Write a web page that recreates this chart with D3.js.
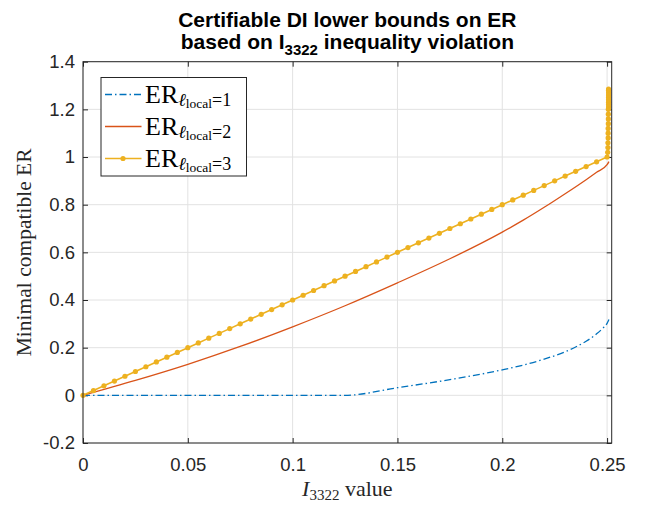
<!DOCTYPE html>
<html><head><meta charset="utf-8">
<script src="https://cdn.jsdelivr.net/npm/d3@7"></script>
<style>body{margin:0;background:#fff}</style>
</head><body>
<svg id="c" width="655" height="506"></svg>
<script>
// Data
const xTicks = [0, 0.05, 0.1, 0.15, 0.2, 0.25];
const xTickLabels = ["0", "0.05", "0.1", "0.15", "0.2", "0.25"];
const yTicks = [-0.2, 0, 0.2, 0.4, 0.6, 0.8, 1.0, 1.2, 1.4];
const yTickLabels = ["-0.2", "0", "0.2", "0.4", "0.6", "0.8", "1", "1.2", "1.4"];

const l1X = [0, 0.025, 0.05, 0.075, 0.1, 0.125, 0.15, 0.175, 0.2, 0.21, 0.22, 0.23, 0.235, 0.24, 0.245, 0.248, 0.25, 0.2509];
const l1Y = [0, 0, 0, 0, 0, 0, 0.032, 0.066, 0.107, 0.127, 0.152, 0.183, 0.203, 0.227, 0.258, 0.282, 0.302, 0.318];

const l2X = [0, 0.025, 0.05, 0.075, 0.1, 0.125, 0.15, 0.175, 0.2, 0.21, 0.22, 0.23, 0.24, 0.245, 0.25, 0.2509];
const l2Y = [0, 0.0625, 0.13, 0.205, 0.2875, 0.376, 0.472, 0.573, 0.685, 0.735, 0.789, 0.846, 0.905, 0.936, 0.968, 0.981];

const l3X = [0, 0.005, 0.01, 0.015, 0.02, 0.025, 0.03, 0.035, 0.04, 0.045, 0.05, 0.055, 0.06, 0.065, 0.07, 0.075, 0.08, 0.085, 0.09, 0.095,
  0.1, 0.105, 0.11, 0.115, 0.12, 0.125, 0.13, 0.135, 0.14, 0.145, 0.15, 0.155, 0.16, 0.165, 0.17, 0.175, 0.18, 0.185, 0.19, 0.195,
  0.2, 0.205, 0.21, 0.215, 0.22, 0.225, 0.23, 0.235, 0.24, 0.245, 0.25,
  0.2503, 0.2504, 0.2504, 0.2505, 0.2505, 0.2505, 0.2506, 0.2506, 0.2506, 0.2506, 0.2507, 0.2507, 0.2507, 0.2507, 0.2507, 0.2507, 0.2507, 0.2507, 0.2507];
const l3Y = [0, 0.02, 0.04, 0.06, 0.08, 0.1, 0.12, 0.14, 0.16, 0.18, 0.2, 0.22, 0.24, 0.26, 0.28, 0.3, 0.32, 0.34, 0.36, 0.38,
  0.4, 0.42, 0.44, 0.46, 0.48, 0.5, 0.52, 0.54, 0.56, 0.58, 0.6, 0.62, 0.64, 0.66, 0.68, 0.7, 0.72, 0.74, 0.76, 0.78,
  0.8, 0.82, 0.84, 0.86, 0.88, 0.9, 0.92, 0.94, 0.96, 0.98, 1.0,
  1.02, 1.04, 1.06, 1.08, 1.1, 1.12, 1.14, 1.16, 1.18, 1.2, 1.21, 1.22, 1.23, 1.24, 1.25, 1.26, 1.27, 1.28, 1.285];

const colors = ["#0072BD", "#D95319", "#EDB120"];

const svg = d3.select("#c");
const L = 83, R = 611.7, T = 61.7, B = 443;
const x = d3.scaleLinear().domain([0, 0.2522]).range([L, R]);
const y = d3.scaleLinear().domain([-0.2, 1.4]).range([B, T]);

// grid
const g = svg.append("g");
g.selectAll(".gx").data(xTicks).enter().append("line")
  .attr("x1", d => x(d)).attr("x2", d => x(d)).attr("y1", T).attr("y2", B)
  .attr("stroke", "#e2e2e2").attr("stroke-width", 1);
g.selectAll(".gy").data(yTicks).enter().append("line")
  .attr("y1", d => y(d)).attr("y2", d => y(d)).attr("x1", L).attr("x2", R)
  .attr("stroke", "#e2e2e2").attr("stroke-width", 1);

// axes
const tickFont = "Liberation Sans, Arial, sans-serif";
const xa = svg.append("g").attr("transform", `translate(0,${B})`)
  .call(d3.axisBottom(x).tickValues(xTicks).tickFormat((d, i) => xTickLabels[i]).tickSizeInner(-5).tickSizeOuter(0).tickPadding(15));
const ya = svg.append("g").attr("transform", `translate(${L},0)`)
  .call(d3.axisLeft(y).tickValues(yTicks).tickFormat((d, i) => yTickLabels[i]).tickSizeInner(-5).tickSizeOuter(0).tickPadding(8));
const xt = svg.append("g").attr("transform", `translate(0,${T})`)
  .call(d3.axisTop(x).tickValues(xTicks).tickFormat("").tickSizeInner(-5).tickSizeOuter(0));
const yr = svg.append("g").attr("transform", `translate(${R},0)`)
  .call(d3.axisRight(y).tickValues(yTicks).tickFormat("").tickSizeInner(-5).tickSizeOuter(0));
[xa, ya, xt, yr].forEach(a => {
  a.select(".domain").remove();
  a.selectAll("line").attr("stroke", "#262626");
  a.selectAll("text").attr("fill", "#262626").style("font-family", tickFont).style("font-size", "18.5px");
});

// lines
const line = d3.line().x(d => x(d[0])).y(d => y(d[1]));
const sline = d3.line().x(d => x(d[0])).y(d => y(d[1])).curve(d3.curveMonotoneX);
const d1 = l1X.map((v, i) => [v, l1Y[i]]);
const d2 = l2X.map((v, i) => [v, l2Y[i]]);
const d3d = l3X.map((v, i) => [v, l3Y[i]]);
svg.append("path").attr("d", sline(d1)).attr("fill", "none").attr("stroke", colors[0]).attr("stroke-width", 1.3)
  .attr("stroke-dasharray", "7,3,1.5,3");
svg.append("path").attr("d", sline(d2)).attr("fill", "none").attr("stroke", colors[1]).attr("stroke-width", 1.3);
svg.append("path").attr("d", line(d3d)).attr("fill", "none").attr("stroke", colors[2]).attr("stroke-width", 1.6);
svg.selectAll(".dot").data(d3d).enter().append("circle")
  .attr("cx", d => x(d[0])).attr("cy", d => y(d[1])).attr("r", 2.6).attr("fill", colors[2]);

// box
svg.append("rect").attr("x", L).attr("y", T).attr("width", R - L).attr("height", B - T)
  .attr("fill", "none").attr("stroke", "#262626").attr("stroke-width", 1);

// title
const title = svg.append("text").attr("text-anchor", "middle").attr("fill", "#000")
  .style("font-family", tickFont).style("font-weight", "bold").style("font-size", "21px");
title.append("tspan").attr("x", (L + R) / 2).attr("y", 26.5).text("Certifiable DI lower bounds on ER");
const t2 = title.append("tspan").attr("x", (L + R) / 2).attr("y", 48.5);
t2.text("based on I");
t2.append("tspan").attr("dy", 6).style("font-size", "15px").text("3322");
t2.append("tspan").attr("dy", -6).text(" inequality violation");

// axis labels
const serif = "Liberation Serif, DejaVu Serif, serif";
const xl = svg.append("text").attr("x", (L + R) / 2).attr("y", 496).attr("text-anchor", "middle")
  .style("font-family", serif).style("font-size", "22px").attr("fill", "#262626");
xl.append("tspan").style("font-style", "italic").text("I");
xl.append("tspan").attr("dy", 4).style("font-size", "15px").text("3322");
xl.append("tspan").attr("dy", -4).text(" value");
svg.append("text").attr("transform", `translate(31,${(T + B) / 2}) rotate(-90)`).attr("text-anchor", "middle")
  .style("font-family", serif).style("font-size", "21.5px").attr("fill", "#262626").text("Minimal compatible ER");

// legend
const lg = svg.append("g");
lg.append("rect").attr("x", 101).attr("y", 77.5).attr("width", 145.5).attr("height", 98.5)
  .attr("fill", "#fff").attr("stroke", "#262626").attr("stroke-width", 1);
const labels = ["1", "2", "3"];
labels.forEach((lab, i) => {
  const yy = 94.5 + i * 32;
  const ln = lg.append("line").attr("x1", 105).attr("x2", 141.5).attr("y1", yy).attr("y2", yy)
    .attr("stroke", colors[i]).attr("stroke-width", i === 2 ? 1.6 : 1.3);
  if (i === 0) ln.attr("stroke-dasharray", "7,3,1.5,3");
  if (i === 2) lg.append("circle").attr("cx", 123).attr("cy", yy).attr("r", 2.6).attr("fill", colors[2]);
  const t = lg.append("text").attr("x", 145).attr("y", yy + 8.3).style("font-family", serif).style("font-size", "26px").attr("fill", "#000");
  t.append("tspan").text("ER");
  t.append("tspan").attr("dy", 3).style("font-size", "18px").style("font-style", "italic").text("ℓ");
  t.append("tspan").attr("dy", 2).style("font-size", "13.5px").text("local");
  t.append("tspan").attr("dy", -2).style("font-size", "18px").text("=" + lab);
});
</script>
</body></html>
